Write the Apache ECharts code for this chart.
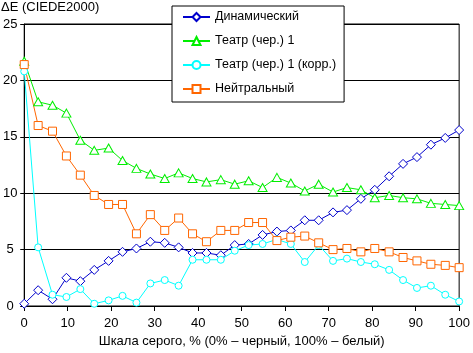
<!DOCTYPE html>
<html>
<head>
<meta charset="utf-8">
<script src="https://cdn.jsdelivr.net/npm/echarts@6/dist/echarts.min.js"></script>
<style>
  html, body { margin: 0; padding: 0; background: #fff; }
  #chart { width: 473px; height: 353px; }
</style>
</head>
<body>
<div id="chart"></div>
<script>
var greyLevels = [0, 3.2, 6.5, 9.7, 12.9, 16.1, 19.4, 22.6, 25.8, 29.0, 32.3, 35.5, 38.7, 41.9, 45.2, 48.4,
  51.6, 54.8, 58.1, 61.3, 64.5, 67.7, 71.0, 74.2, 77.4, 80.6, 83.9, 87.1, 90.3, 93.5, 96.8, 100];

var seriesNames = ['Динамический', 'Театр (чер.) 1', 'Театр (чер.) 1 (корр.)', 'Нейтральный'];

var dynamicValues = [0.2, 1.4, 0.6, 2.5, 2.2, 3.2, 4.0, 4.8, 5.1, 5.7, 5.6, 5.2, 4.7, 4.7, 4.5, 5.4,
  5.5, 6.3, 6.6, 6.7, 7.6, 7.6, 8.3, 8.5, 9.5, 10.3, 11.5, 12.6, 13.2, 14.3, 14.9, 15.6];

var theatreValues = [21.7, 18.1, 17.8, 17.1, 14.7, 13.8, 14.0, 12.9, 12.2, 11.7, 11.3, 11.8, 11.3, 11.0, 11.2, 10.8,
  11.1, 10.5, 11.4, 10.9, 10.2, 10.8, 10.1, 10.5, 10.3, 9.6, 9.8, 9.6, 9.5, 9.1, 9.0, 8.9];

var theatreCorrValues = [20.8, 5.2, 1.0, 0.8, 1.5, 0.2, 0.5, 0.9, 0.3, 2.0, 2.3, 1.8, 4.1, 4.1, 4.1, 4.9,
  5.4, 5.5, 5.9, 5.5, 3.9, 5.4, 4.0, 4.2, 3.9, 3.7, 3.2, 2.3, 1.6, 1.8, 1.0, 0.4];

var neutralValues = [21.4, 16.0, 15.5, 13.3, 11.6, 9.8, 9.0, 9.0, 6.4, 8.1, 6.7, 7.8, 6.4, 5.7, 6.7, 6.7,
  7.4, 7.4, 5.8, 6.1, 6.2, 5.6, 5.0, 5.1, 4.8, 5.1, 4.8, 4.3, 4.0, 3.7, 3.6, 3.4];

var yTicks = [0, 5, 10, 15, 20, 25];
var xTicks = [0, 10, 20, 30, 40, 50, 60, 70, 80, 90, 100];

var fontName = '"Liberation Sans", Arial, sans-serif';

function pairs(values) {
  return values.map(function each(v, i) {
    return [greyLevels[i], v];
  });
}

// hollow markers: white fill, coloured 1px outline
function makeSeries(name, values, symbol, size, color) {
  return {
    name: name,
    type: 'line',
    data: pairs(values),
    symbol: symbol,
    symbolSize: size,
    showAllSymbol: true,
    animation: false,
    lineStyle: { color: color, width: 1 },
    itemStyle: { color: '#fff', borderColor: color, borderWidth: 1 }
  };
}

var myChart = echarts.init(document.getElementById('chart'));

var option = {
  backgroundColor: '#fff',
  animation: false,
  textStyle: { fontFamily: fontName, color: '#000' },
  grid: {
    left: 24,
    right: 10,
    top: 24,
    bottom: 44,
    show: true,
    borderColor: '#000',
    borderWidth: 1,
    backgroundColor: '#fff'
  },
  graphic: [{
    type: 'text',
    left: 1,
    top: 1,
    style: { text: 'ΔE (CIEDE2000)', font: '13px ' + fontName, fill: '#000' }
  }],
  legend: {
    orient: 'vertical',
    left: 172,
    top: 6,
    padding: [4, 8, 6, 10],
    itemGap: 10,
    itemWidth: 27,
    itemHeight: 10,
    backgroundColor: '#fff',
    borderColor: '#000',
    borderWidth: 1,
    borderRadius: 0,
    textStyle: { fontFamily: fontName, fontSize: 12.5, color: '#000', lineHeight: 14 },
    data: seriesNames
  },
  xAxis: {
    type: 'value',
    min: xTicks[0],
    max: xTicks[xTicks.length - 1],
    interval: 10,
    name: 'Шкала серого, % (0% – черный, 100% – белый)',
    nameLocation: 'middle',
    nameGap: 29,
    nameTextStyle: { fontFamily: fontName, fontSize: 13, color: '#000' },
    axisLine: { show: true, lineStyle: { color: '#000', width: 1 } },
    axisTick: { show: true, length: 5, lineStyle: { color: '#000' } },
    axisLabel: { fontFamily: fontName, fontSize: 13, color: '#000', margin: 11 },
    splitLine: { show: false }
  },
  yAxis: {
    type: 'value',
    min: yTicks[0],
    max: yTicks[yTicks.length - 1],
    interval: 5,
    axisLine: { show: true, lineStyle: { color: '#000', width: 1 } },
    axisTick: { show: true, length: 4, lineStyle: { color: '#000' } },
    axisLabel: { fontFamily: fontName, fontSize: 13, color: '#000', align: 'center', margin: 14 },
    splitLine: { show: true, lineStyle: { color: '#000', width: 1 } }
  },
  series: [
    makeSeries(seriesNames[0], dynamicValues, 'diamond', 9, '#0000cc'),
    makeSeries(seriesNames[1], theatreValues, 'triangle', [9, 8], '#00ee00'),
    makeSeries(seriesNames[2], theatreCorrValues, 'circle', 7, '#00ffff'),
    makeSeries(seriesNames[3], neutralValues, 'rect', 8, '#ff6600')
  ]
};

myChart.setOption(option, true);
</script>
</body>
</html>
